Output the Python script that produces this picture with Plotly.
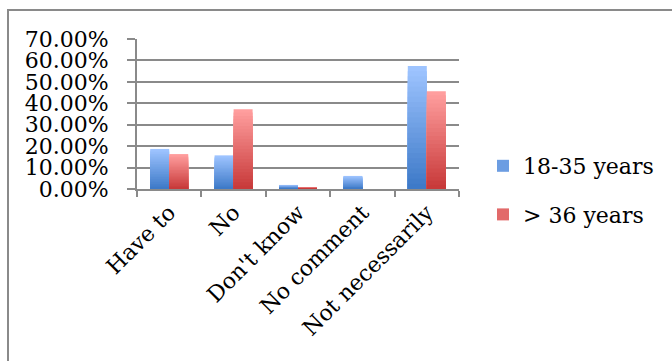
import plotly.graph_objects as go

# Survey answers by age group (percent of respondents)
categories = ["Have to", "No", "Don't know", "No comment", "Not necessarily"]
series_names = ["18-35 years", "> 36 years"]
young_pct = [18.7, 15.7, 1.9, 6.1, 57.4]
older_pct = [16.3, 37.2, 0.9, 0.0, 45.6]

# bottom (dark) and top (light) colour of each series' vertical gradient
gradients = {
    "18-35 years": ((62, 122, 200), (158, 196, 255)),
    "> 36 years": ((200, 58, 58), (255, 158, 158)),
}

FONT = "DejaVu Serif"
GRID = "#8a8a8a"
STEPS = 24  # nested bars used to fake a vertical colour gradient


def mix(c0, c1, t):
    return "rgb({},{},{})".format(*[round(a + (b - a) * t) for a, b in zip(c0, c1)])


fig = go.Figure()
for name, values in zip(series_names, [young_pct, older_pct]):
    dark, light = gradients[name]
    # tallest (lightest) bar first, then progressively shorter, darker bars on top
    for k in range(STEPS):
        frac = (STEPS - k) / STEPS
        t = 1 - k / (STEPS - 1)
        fig.add_trace(go.Bar(
            x=categories,
            y=[v * frac for v in values],
            name=name,
            offsetgroup=name,
            legendgroup=name,
            showlegend=(k == STEPS // 2),
            marker=dict(color=mix(dark, light, t), line=dict(width=0)),
            hoverinfo="skip",
        ))

# plot area spans x 137..459 px and y 39..189 px
L, R, T, B = 137, 459, 39, 189
W, H = R - L, B - T

fig.update_layout(
    width=672, height=361,
    margin=dict(l=L, r=672 - R, t=T, b=361 - B),
    paper_bgcolor="white", plot_bgcolor="white",
    font=dict(family=FONT, size=22, color="black"),
    barmode="group",
    bargap=0.41, bargroupgap=0.0,
    showlegend=True,
    legend=dict(
        x=(483 - L) / W, xanchor="left",
        y=(B - 145) / H, yanchor="top",
        bgcolor="rgba(0,0,0,0)",
        font=dict(family=FONT, size=22, color="black"),
        tracegroupgap=17,
        traceorder="grouped",
    ),
    xaxis=dict(
        type="category",
        showline=True, linecolor=GRID, linewidth=2,
        ticks="outside", tickson="boundaries", ticklen=6,
        tickcolor=GRID, tickwidth=2,
        tickangle=-45,
        showgrid=False,
    ),
    yaxis=dict(
        range=[0, 70],
        dtick=10,
        tickformat=".2f", ticksuffix="%",
        showline=True, linecolor=GRID, linewidth=2,
        ticks="outside", ticklen=8, tickcolor=GRID, tickwidth=2,
        ticklabelstandoff=14,
        showgrid=True, gridcolor=GRID, gridwidth=2,
        zeroline=False,
    ),
    shapes=[dict(
        type="rect", xref="paper", yref="paper",
        x0=(8 - L) / W, x1=3.0,
        y0=-3.0, y1=(B - 10) / H,
        line=dict(color=GRID, width=2),
        fillcolor="rgba(0,0,0,0)",
        layer="below",
    )],
)

fig.write_html("out.html")
